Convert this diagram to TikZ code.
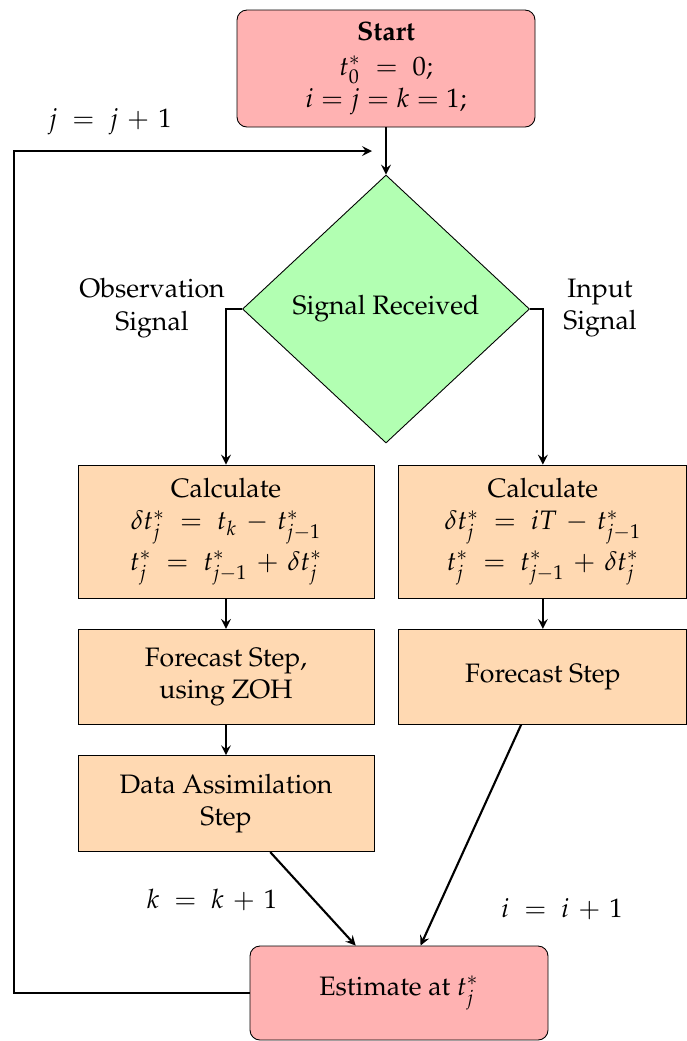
\documentclass[tikz,border=0pt,12pt]{standalone}
\usepackage[T1]{fontenc}
\usepackage{mathpazo}
\usepackage{amsmath}
\usetikzlibrary{arrows.meta,positioning,shapes.geometric}
\AtBeginDocument{\medmuskip=6mu plus 2mu minus 2mu}

\begin{document}
\begin{tikzpicture}[x=0.45pt, y=-0.45pt,
            node distance=13.7pt,
            startstop/.style={rectangle, rounded corners=4.5pt, draw=black, fill=red!30, minimum width=134.1pt, inner sep=2pt, align=center},
            decision/.style={diamond, draw=black, fill=green!30, minimum width=129.15pt, minimum height=120.6pt, inner sep=0pt, aspect=1.07, align=center},
            process/.style={rectangle, draw=black, fill=orange!30, inner sep=2pt, align=center},
            arrow/.style={->, >=stealth, line width=0.95pt}
        ]
        \useasboundingbox (0,0) rectangle (687,1041);

        \node[startstop, minimum height=52.65pt] (start) at (386,68.5) {\textbf{Start}\\[1pt] $t_0^* \;=\; 0;$\\ $i = j = k = 1;$};
        \node[decision] (dec) at (386,309) {Signal Received};

        \node[process, minimum width=133.2pt, minimum height=59.85pt] (calcL) at (226,531.5) {Calculate\\ $\delta t_j^* \;=\; t_k - t_{j-1}^*$\\[2pt] $t_j^* \;=\; t_{j-1}^* + \delta t_j^*$};
        \node[process, minimum width=129.6pt, minimum height=59.85pt, right=10.8pt of calcL] (calcR) {Calculate\\ $\delta t_j^* \;=\; iT - t_{j-1}^*$\\[2pt] $t_j^* \;=\; t_{j-1}^* + \delta t_j^*$};
        \node[process, minimum width=133.2pt, minimum height=42.75pt, below=of calcL] (fcL) {Forecast Step,\\ using ZOH};
        \node[process, minimum width=129.6pt, minimum height=42.75pt, below=of calcR] (fcR) {Forecast Step};
        \node[process, minimum width=133.2pt, minimum height=43.2pt, below=of fcL] (da) {Data Assimilation\\ Step};

        \node[startstop, minimum height=42.3pt] (est) at (399,993) {Estimate at $t_j^*$};

        % branch labels
        \node[align=center] (obs) at (152,308) {Observation\\ Signal};
        \node[align=center] (inp) at (600,308) {Input\\ Signal};
        \node (incj) at (110,122) {$j \;=\; j + 1$};
        \node (inck) at (212,900) {$k \;=\; k + 1$};
        \node (inci) at (562,909) {$i \;=\; i + 1$};

        \coordinate (loopcorner) at (14,151);
        \coordinate (loopend) at (372,151);

        \draw[arrow] (start) -- (dec);
        \draw[arrow] (dec.west) -| (calcL.north);
        \draw[arrow] (dec.east) -| (calcR.north);
        \draw[arrow] (calcL) -- (fcL);
        \draw[arrow] (fcL) -- (da);
        \draw[arrow] (calcR) -- (fcR);
        \draw[arrow] (da) -- (est);
        \draw[arrow] (fcR) -- (est);
        \draw[arrow] (est.west) -| (loopcorner) -- (loopend);
\end{tikzpicture}
\end{document}
